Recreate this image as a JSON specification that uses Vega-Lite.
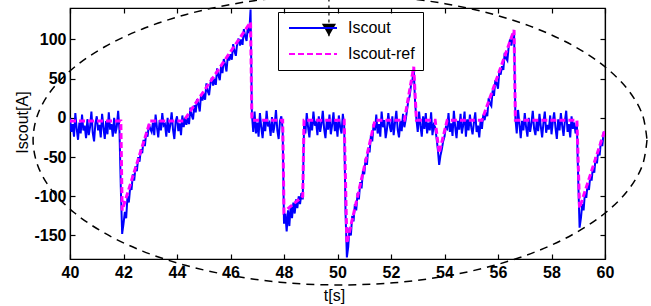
{
"$schema":"https://vega.github.io/schema/vega-lite/v6.json",
"width":535,"height":251,
"autosize":{"type":"none"},
"padding":{"left":70,"top":8,"right":46,"bottom":47},
"background":"white",
"config":{"view":{"stroke":"black","strokeWidth":1.2},
"axis":{"grid":false,"domainColor":"black","domainWidth":1.2,"tickColor":"black","tickWidth":1.2,"labelColor":"black","titleColor":"black","labelFlush":false,"labelOverlap":false}},
"datasets":{
"meas":[
{"t":40.00,"v":0},{"t":40.05,"v":-18},{"t":40.10,"v":-8},{"t":40.15,"v":-24},{"t":40.20,"v":6},{"t":40.25,"v":-14},{"t":40.30,"v":-28},{"t":40.35,"v":-6},{"t":40.40,"v":-20},{"t":40.45,"v":4},
{"t":40.50,"v":-16},{"t":40.55,"v":-10},{"t":40.60,"v":-26},{"t":40.65,"v":-2},{"t":40.70,"v":-22},{"t":40.75,"v":-12},{"t":40.80,"v":8},{"t":40.85,"v":-19},{"t":40.90,"v":-30},{"t":40.95,"v":-7},
{"t":41.00,"v":2},{"t":41.05,"v":-16},{"t":41.10,"v":-9},{"t":41.15,"v":-25},{"t":41.20,"v":5},{"t":41.25,"v":-12},{"t":41.30,"v":-27},{"t":41.35,"v":-4},{"t":41.40,"v":-21},{"t":41.45,"v":7},
{"t":41.50,"v":-15},{"t":41.55,"v":-8},{"t":41.60,"v":-24},{"t":41.65,"v":0},{"t":41.70,"v":-20},{"t":41.75,"v":-11},{"t":41.80,"v":9},{"t":41.85,"v":-17},{"t":41.90,"v":-90},{"t":41.95,"v":-148},
{"t":42.00,"v":-135},{"t":42.05,"v":-120},{"t":42.10,"v":-128},{"t":42.15,"v":-100},{"t":42.20,"v":-108},{"t":42.25,"v":-88},{"t":42.30,"v":-92},{"t":42.35,"v":-72},{"t":42.40,"v":-80},{"t":42.45,"v":-62},
{"t":42.50,"v":-68},{"t":42.55,"v":-50},{"t":42.60,"v":-56},{"t":42.65,"v":-40},{"t":42.70,"v":-45},{"t":42.75,"v":-28},{"t":42.80,"v":-36},{"t":42.85,"v":-18},{"t":42.90,"v":-24},{"t":42.95,"v":-8},
{"t":43.00,"v":-14},{"t":43.05,"v":-18},{"t":43.10,"v":-6},{"t":43.15,"v":-22},{"t":43.20,"v":4},{"t":43.25,"v":-12},{"t":43.30,"v":-25},{"t":43.35,"v":-3},{"t":43.40,"v":-16},{"t":43.45,"v":6},
{"t":43.50,"v":-10},{"t":43.55,"v":-8},{"t":43.60,"v":-24},{"t":43.65,"v":0},{"t":43.70,"v":-19},{"t":43.75,"v":-9},{"t":43.80,"v":7},{"t":43.85,"v":-15},{"t":43.90,"v":-27},{"t":43.95,"v":-5},
{"t":44.00,"v":2},{"t":44.05,"v":-17},{"t":44.10,"v":-7},{"t":44.15,"v":-22},{"t":44.20,"v":3},{"t":44.25,"v":-12},{"t":44.30,"v":0},{"t":44.35,"v":-9},{"t":44.40,"v":0},{"t":44.45,"v":-8},
{"t":44.50,"v":13},{"t":44.55,"v":3},{"t":44.60,"v":-2},{"t":44.65,"v":16},{"t":44.70,"v":7},{"t":44.75,"v":24},{"t":44.80,"v":18},{"t":44.85,"v":8},{"t":44.90,"v":30},{"t":44.95,"v":22},
{"t":45.00,"v":31},{"t":45.05,"v":23},{"t":45.10,"v":44},{"t":45.15,"v":34},{"t":45.20,"v":29},{"t":45.25,"v":44},{"t":45.30,"v":51},{"t":45.35,"v":41},{"t":45.40,"v":50},{"t":45.45,"v":42},
{"t":45.50,"v":63},{"t":45.55,"v":54},{"t":45.60,"v":48},{"t":45.65,"v":67},{"t":45.70,"v":57},{"t":45.75,"v":75},{"t":45.80,"v":68},{"t":45.85,"v":59},{"t":45.90,"v":80},{"t":45.95,"v":73},
{"t":46.00,"v":81},{"t":46.05,"v":74},{"t":46.10,"v":94},{"t":46.15,"v":85},{"t":46.20,"v":79},{"t":46.25,"v":95},{"t":46.30,"v":101},{"t":46.35,"v":92},{"t":46.40,"v":100},{"t":46.45,"v":93},
{"t":46.50,"v":113},{"t":46.55,"v":104},{"t":46.60,"v":98},{"t":46.65,"v":117},{"t":46.70,"v":108},{"t":46.75,"v":138},{"t":46.80,"v":5},{"t":46.85,"v":-18},{"t":46.90,"v":8},{"t":46.95,"v":-20},
{"t":47.00,"v":-6},{"t":47.05,"v":-24},{"t":47.10,"v":6},{"t":47.15,"v":-12},{"t":47.20,"v":-26},{"t":47.25,"v":-4},{"t":47.30,"v":-17},{"t":47.35,"v":9},{"t":47.40,"v":-11},{"t":47.45,"v":-7},
{"t":47.50,"v":-23},{"t":47.55,"v":1},{"t":47.60,"v":-19},{"t":47.65,"v":-9},{"t":47.70,"v":10},{"t":47.75,"v":-16},{"t":47.80,"v":-27},{"t":47.85,"v":-4},{"t":47.90,"v":2},{"t":47.95,"v":-15},
{"t":48.00,"v":-135},{"t":48.05,"v":-122},{"t":48.10,"v":-145},{"t":48.15,"v":-118},{"t":48.20,"v":-138},{"t":48.25,"v":-112},{"t":48.30,"v":-128},{"t":48.35,"v":-108},{"t":48.40,"v":-122},{"t":48.45,"v":-104},
{"t":48.50,"v":-115},{"t":48.55,"v":-100},{"t":48.60,"v":-110},{"t":48.65,"v":-96},{"t":48.70,"v":-104},{"t":48.75,"v":-8},{"t":48.80,"v":-20},{"t":48.85,"v":6},{"t":48.90,"v":-12},{"t":48.95,"v":-25},
{"t":49.00,"v":-2},{"t":49.05,"v":-16},{"t":49.10,"v":8},{"t":49.15,"v":-10},{"t":49.20,"v":-6},{"t":49.25,"v":-22},{"t":49.30,"v":2},{"t":49.35,"v":-18},{"t":49.40,"v":-8},{"t":49.45,"v":9},
{"t":49.50,"v":-14},{"t":49.55,"v":-26},{"t":49.60,"v":-3},{"t":49.65,"v":-15},{"t":49.70,"v":4},{"t":49.75,"v":-21},{"t":49.80,"v":-9},{"t":49.85,"v":7},{"t":49.90,"v":-17},{"t":49.95,"v":-5},
{"t":50.00,"v":-24},{"t":50.05,"v":3},{"t":50.10,"v":-12},{"t":50.15,"v":-20},{"t":50.20,"v":5},{"t":50.25,"v":-10},{"t":50.30,"v":-120},{"t":50.35,"v":-178},{"t":50.40,"v":-165},{"t":50.45,"v":-140},
{"t":50.50,"v":-150},{"t":50.55,"v":-125},{"t":50.60,"v":-132},{"t":50.65,"v":-110},{"t":50.70,"v":-118},{"t":50.75,"v":-96},{"t":50.80,"v":-104},{"t":50.85,"v":-82},{"t":50.90,"v":-90},{"t":50.95,"v":-68},
{"t":51.00,"v":-72},{"t":51.05,"v":-52},{"t":51.10,"v":-60},{"t":51.15,"v":-38},{"t":51.20,"v":-44},{"t":51.25,"v":-22},{"t":51.30,"v":-30},{"t":51.35,"v":-8},{"t":51.40,"v":-16},{"t":51.45,"v":4},
{"t":51.50,"v":-20},{"t":51.55,"v":-8},{"t":51.60,"v":-24},{"t":51.65,"v":8},{"t":51.70,"v":-12},{"t":51.75,"v":-3},{"t":51.80,"v":-26},{"t":51.85,"v":-14},{"t":51.90,"v":6},{"t":51.95,"v":-10},
{"t":52.00,"v":-18},{"t":52.05,"v":2},{"t":52.10,"v":-22},{"t":52.15,"v":-6},{"t":52.20,"v":9},{"t":52.25,"v":-15},{"t":52.30,"v":-25},{"t":52.35,"v":-4},{"t":52.40,"v":-17},{"t":52.45,"v":5},
{"t":52.50,"v":-12},{"t":52.55,"v":-2},{"t":52.60,"v":10},{"t":52.65,"v":22},{"t":52.70,"v":28},{"t":52.75,"v":42},{"t":52.80,"v":48},{"t":52.85,"v":62},{"t":52.90,"v":20},{"t":52.95,"v":-2},
{"t":53.00,"v":-18},{"t":53.05,"v":8},{"t":53.10,"v":-10},{"t":53.15,"v":-24},{"t":53.20,"v":2},{"t":53.25,"v":-14},{"t":53.30,"v":6},{"t":53.35,"v":-20},{"t":53.40,"v":-6},{"t":53.45,"v":-16},
{"t":53.50,"v":7},{"t":53.55,"v":-22},{"t":53.60,"v":-9},{"t":53.65,"v":-12},{"t":53.70,"v":-25},{"t":53.75,"v":-40},{"t":53.80,"v":-60},{"t":53.85,"v":-48},{"t":53.90,"v":-40},{"t":53.95,"v":-30},
{"t":54.00,"v":-24},{"t":54.05,"v":-12},{"t":54.10,"v":-14},{"t":54.15,"v":6},{"t":54.20,"v":-18},{"t":54.25,"v":-7},{"t":54.30,"v":-23},{"t":54.35,"v":9},{"t":54.40,"v":-12},{"t":54.45,"v":-26},
{"t":54.50,"v":-4},{"t":54.55,"v":-15},{"t":54.60,"v":5},{"t":54.65,"v":-20},{"t":54.70,"v":-9},{"t":54.75,"v":8},{"t":54.80,"v":-24},{"t":54.85,"v":-2},{"t":54.90,"v":-16},{"t":54.95,"v":4},
{"t":55.00,"v":-12},{"t":55.05,"v":-21},{"t":55.10,"v":-6},{"t":55.15,"v":7},{"t":55.20,"v":-18},{"t":55.25,"v":-10},{"t":55.30,"v":-25},{"t":55.35,"v":-3},{"t":55.40,"v":-14},{"t":55.45,"v":4},
{"t":55.50,"v":-3},{"t":55.55,"v":7},{"t":55.60,"v":2},{"t":55.65,"v":25},{"t":55.70,"v":18},{"t":55.75,"v":15},{"t":55.80,"v":35},{"t":55.85,"v":28},{"t":55.90,"v":48},{"t":55.95,"v":44},
{"t":56.00,"v":37},{"t":56.05,"v":60},{"t":56.10,"v":55},{"t":56.15,"v":66},{"t":56.20,"v":61},{"t":56.25,"v":83},{"t":56.30,"v":76},{"t":56.35,"v":73},{"t":56.40,"v":91},{"t":56.45,"v":100},
{"t":56.50,"v":92},{"t":56.55,"v":103},{"t":56.60,"v":110},{"t":56.65,"v":0},{"t":56.70,"v":-20},{"t":56.75,"v":10},{"t":56.80,"v":-8},{"t":56.85,"v":-26},{"t":56.90,"v":-4},{"t":56.95,"v":-16},
{"t":57.00,"v":6},{"t":57.05,"v":-12},{"t":57.10,"v":-24},{"t":57.15,"v":0},{"t":57.20,"v":-18},{"t":57.25,"v":-7},{"t":57.30,"v":9},{"t":57.35,"v":-14},{"t":57.40,"v":-22},{"t":57.45,"v":-3},
{"t":57.50,"v":-17},{"t":57.55,"v":5},{"t":57.60,"v":-11},{"t":57.65,"v":-25},{"t":57.70,"v":-6},{"t":57.75,"v":8},{"t":57.80,"v":-19},{"t":57.85,"v":-9},{"t":57.90,"v":-15},{"t":57.95,"v":3},
{"t":58.00,"v":-21},{"t":58.05,"v":-5},{"t":58.10,"v":7},{"t":58.15,"v":-13},{"t":58.20,"v":-27},{"t":58.25,"v":-2},{"t":58.30,"v":-16},{"t":58.35,"v":6},{"t":58.40,"v":-10},{"t":58.45,"v":-23},
{"t":58.50,"v":-4},{"t":58.55,"v":9},{"t":58.60,"v":-18},{"t":58.65,"v":-8},{"t":58.70,"v":-25},{"t":58.75,"v":2},{"t":58.80,"v":-14},{"t":58.85,"v":-6},{"t":58.90,"v":-20},{"t":58.95,"v":-10},
{"t":59.00,"v":-80},{"t":59.05,"v":-140},{"t":59.10,"v":-128},{"t":59.15,"v":-110},{"t":59.20,"v":-118},{"t":59.25,"v":-96},{"t":59.30,"v":-102},{"t":59.35,"v":-85},{"t":59.40,"v":-92},{"t":59.45,"v":-74},
{"t":59.50,"v":-80},{"t":59.55,"v":-62},{"t":59.60,"v":-70},{"t":59.65,"v":-50},{"t":59.70,"v":-58},{"t":59.75,"v":-40},{"t":59.80,"v":-48},{"t":59.85,"v":-28},{"t":59.90,"v":-36},{"t":59.95,"v":-18},
{"t":60.00,"v":-22}],
"ref":[{"t":40,"v":-4},{"t":41.9,"v":-4},{"t":41.95,"v":-118},{"t":43,"v":-4},{"t":44.25,"v":-4},{"t":46.75,"v":122},{"t":46.8,"v":-3},{"t":47.95,"v":-3},{"t":48,"v":-120},{"t":48.7,"v":-100},{"t":48.75,"v":-3},{"t":50.25,"v":-3},{"t":50.35,"v":-160},{"t":51.4,"v":-3},{"t":52.5,"v":-3},{"t":52.85,"v":65},{"t":52.95,"v":-3},{"t":53.65,"v":-3},{"t":53.8,"v":-45},{"t":54.1,"v":-3},{"t":55.4,"v":-3},{"t":56.6,"v":112},{"t":56.65,"v":-3},{"t":58.95,"v":-3},{"t":59.05,"v":-115},{"t":60,"v":-15}],
"ell":[{"k":0,"t":61.57,"v":-28.3},{"k":1,"t":61.40,"v":-60.4},{"k":2,"t":60.88,"v":-91.5},{"k":3,"t":60.03,"v":-120.7},{"k":4,"t":58.88,"v":-147.1},{"k":5,"t":57.47,"v":-169.9},{"k":6,"t":55.83,"v":-188.4},{"k":7,"t":54.02,"v":-202.0},{"k":8,"t":52.09,"v":-210.4},{"k":9,"t":50.09,"v":-213.1},{"k":10,"t":48.10,"v":-210.4},{"k":11,"t":46.17,"v":-202.0},{"k":12,"t":44.35,"v":-188.4},{"k":13,"t":42.71,"v":-169.9},{"k":14,"t":41.30,"v":-147.1},{"k":15,"t":40.15,"v":-120.7},{"k":16,"t":39.30,"v":-91.5},{"k":17,"t":38.79,"v":-60.4},{"k":18,"t":38.62,"v":-28.3},{"k":19,"t":38.79,"v":3.9},{"k":20,"t":39.30,"v":34.9},{"k":21,"t":40.15,"v":64.1},{"k":22,"t":41.30,"v":90.6},{"k":23,"t":42.71,"v":113.3},{"k":24,"t":44.35,"v":131.8},{"k":25,"t":46.17,"v":145.5},{"k":26,"t":48.10,"v":153.8},{"k":27,"t":50.09,"v":156.6},{"k":28,"t":52.09,"v":153.8},{"k":29,"t":54.02,"v":145.5},{"k":30,"t":55.83,"v":131.8},{"k":31,"t":57.47,"v":113.3},{"k":32,"t":58.88,"v":90.6},{"k":33,"t":60.03,"v":64.1},{"k":34,"t":60.88,"v":34.9},{"k":35,"t":61.40,"v":3.9},{"k":36,"t":61.57,"v":-28.3}],
"tri":[{"t":49.68,"v":112,"vtop":152,"vbot":104}]
},
"resolve":{"axis":{"x":"independent","y":"independent"}},
"layer":[
{"data":{"name":"meas"},
 "mark":{"type":"line","strokeWidth":2,"clip":true},
 "encoding":{
  "x":{"field":"t","type":"quantitative","scale":{"domain":[40,60],"nice":false,"zero":false},
   "axis":{"orient":"bottom","values":[40,42,44,46,48,50,52,54,56,58,60],"tickSize":-5,"labelPadding":10,"labelFont":"Liberation Sans","labelFontSize":16,"labelFontWeight":"bold","title":"t[s]","titleFont":"Liberation Sans","titleFontSize":16,"titleFontWeight":"normal","titleX":264,"titleY":36,"titleBaseline":"middle","titleAlign":"center"}},
  "y":{"field":"v","type":"quantitative","scale":{"domain":[-180,140],"nice":false,"zero":false},
   "axis":{"orient":"left","values":[-150,-100,-50,0,50,100],"tickSize":-5,"labelPadding":9,"labelFont":"Liberation Sans","labelFontSize":16,"labelFontWeight":"bold","labelExpr":"replace(datum.label,'\u2212','-')","title":"Iscout[A]","titleFont":"Liberation Sans","titleFontSize":16,"titleFontWeight":"normal","titleX":-48,"titleY":114,"titleAngle":-90,"titleAlign":"center","titleBaseline":"middle"}},
  "color":{"datum":"Iscout","type":"nominal","scale":{"domain":["Iscout","Iscout-ref"],"range":["#0000ff","#ff00ff"]},
   "legend":{"orient":"none","legendX":208,"legendY":4,"title":null,"strokeColor":"black","padding":8,"symbolType":"M-4.8,0H4.8","symbolSize":100,"symbolOffset":19,"symbolStrokeWidth":2,"labelFont":"Liberation Sans","labelFontSize":16,"labelColor":"black","rowPadding":10,"labelOffset":27}},
  "strokeDash":{"datum":"Iscout","type":"nominal","scale":{"domain":["Iscout","Iscout-ref"],"range":[[1,0],[6,3]]},
   "legend":{"orient":"none","legendX":208,"legendY":4,"title":null,"strokeColor":"black","padding":8,"symbolType":"M-4.8,0H4.8","symbolSize":100,"symbolOffset":19,"symbolStrokeWidth":2,"labelFont":"Liberation Sans","labelFontSize":16,"labelColor":"black","rowPadding":10,"labelOffset":27}}
 }},
{"data":{"name":"ref"},
 "mark":{"type":"line","strokeWidth":3,"clip":true},
 "encoding":{
  "x":{"field":"t","type":"quantitative","axis":null},
  "y":{"field":"v","type":"quantitative","axis":null},
  "color":{"datum":"Iscout-ref","type":"nominal"},
  "strokeDash":{"datum":"Iscout-ref","type":"nominal"}
 }},
{"data":{"name":"ell"},
 "mark":{"type":"line","color":"black","strokeWidth":1.5,"strokeDash":[8,6],"interpolate":"catmull-rom","clip":false},
 "encoding":{
  "x":{"field":"t","type":"quantitative","axis":null},
  "y":{"field":"v","type":"quantitative","axis":null},
  "order":{"field":"k","type":"quantitative"}
 }},
{"data":{"name":"tri"},
 "mark":{"type":"rule","color":"black","strokeWidth":1.2,"strokeDash":[3,4],"clip":false},
 "encoding":{
  "x":{"field":"t","type":"quantitative","axis":null},
  "y":{"field":"vtop","type":"quantitative","axis":null},
  "y2":{"field":"vbot"}
 }},
{"data":{"name":"tri"},
 "mark":{"type":"point","shape":"triangle-down","filled":true,"color":"black","size":200,"opacity":1,"clip":false},
 "encoding":{
  "x":{"field":"t","type":"quantitative","axis":null},
  "y":{"field":"v","type":"quantitative","axis":null}
 }},
{"data":{"name":"ref"},
 "mark":{"type":"point","opacity":0},
 "encoding":{
  "x":{"field":"t","type":"quantitative","axis":{"orient":"top","values":[40,42,44,46,48,50,52,54,56,58,60],"tickSize":-5,"labels":false,"title":null}},
  "y":{"field":"v","type":"quantitative","axis":{"orient":"right","values":[-150,-100,-50,0,50,100],"tickSize":-5,"labels":false,"title":null}}
 }}
]
}
